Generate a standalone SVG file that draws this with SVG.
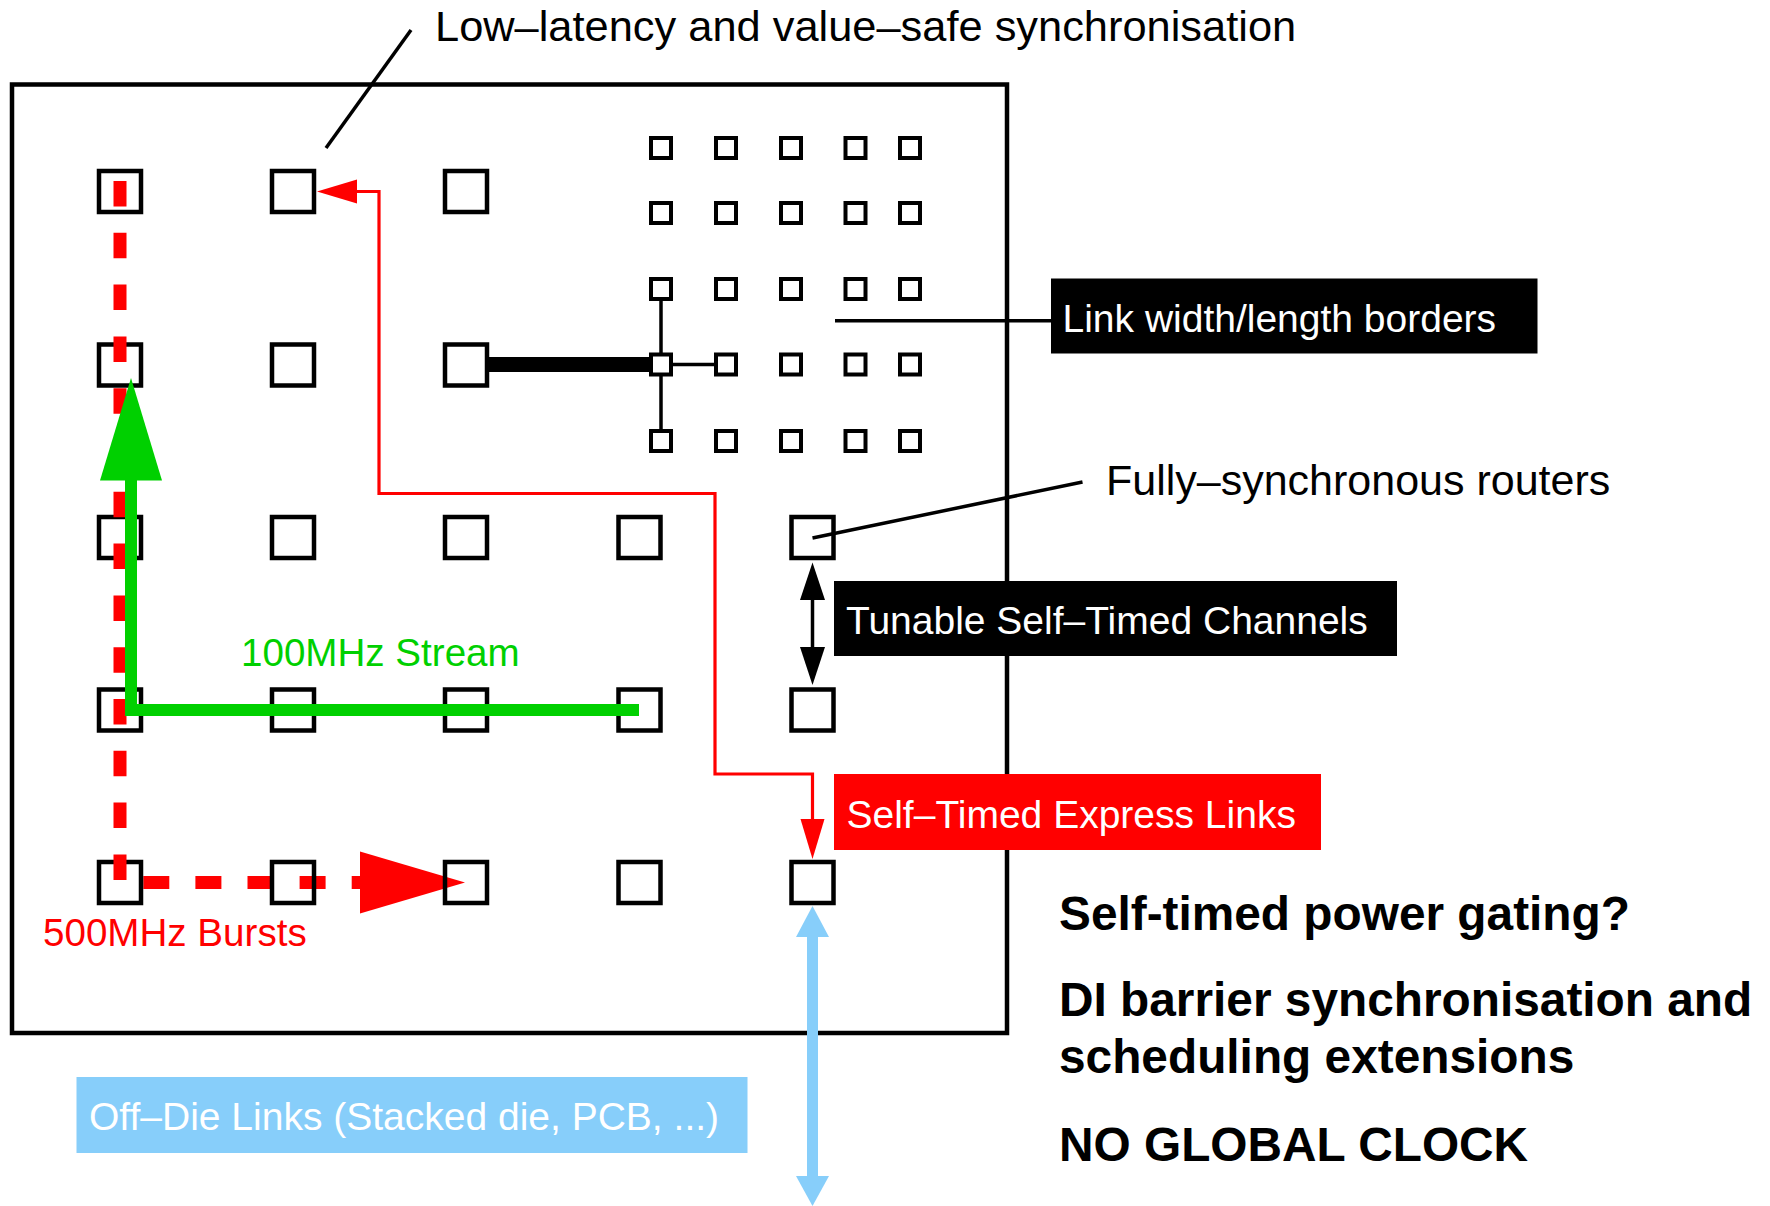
<svg xmlns="http://www.w3.org/2000/svg" width="1770" height="1206" viewBox="0 0 1770 1206">
<style>
text{font-family:"Liberation Sans",Arial,Helvetica,sans-serif}
.frame{fill:none;stroke:#000;stroke-width:4.5}
.node{fill:none;stroke:#000;stroke-width:4.5}
.snode{fill:#fff;stroke:#000;stroke-width:4}
.thin{stroke:#000;stroke-width:3.5;fill:none}
.red{stroke:#ff0000;stroke-width:3.2;fill:none}
.redf{fill:#ff0000}
.green{stroke:#00d000;stroke-width:12;fill:none;stroke-linejoin:miter}
.greenf{fill:#00d000}
.dash{stroke:#ff0000;stroke-width:13;fill:none}
.blue{stroke:#87cefa;stroke-width:11;fill:none}
.bluef{fill:#87cefa}
.lbl{font-size:39px;fill:#fff}
.note{font-size:43px;fill:#000}
.bold{font-size:47.8px;font-weight:bold;fill:#000}
</style>
<rect class="frame" x="12" y="84.5" width="995" height="948.5"/>
<g id="connectors-under">
<line class="dash" x1="143.3" y1="882.5" x2="360" y2="882.5" stroke-dasharray="26 26.1"/>
<polygon class="redf" points="465,882.5 360,851.5 360,913.5"/>
<line stroke="#000" stroke-width="15" x1="488" y1="364.5" x2="652" y2="364.5"/>
<line class="thin" stroke-width="4" x1="661" y1="289" x2="661" y2="441"/>
<line class="thin" stroke-width="4" x1="661" y1="364.5" x2="726" y2="364.5"/>
</g>
<g id="nodes">
<g id="r1c1"><rect class="node" x="99" y="171" width="42" height="41"/></g>
<g id="r1c2"><rect class="node" x="272" y="171" width="42" height="41"/></g>
<g id="r1c3"><rect class="node" x="445" y="171" width="42" height="41"/></g>
<g id="r2c1"><rect class="node" x="99" y="344.5" width="42" height="41"/></g>
<g id="r2c2"><rect class="node" x="272" y="344.5" width="42" height="41"/></g>
<g id="r2c3"><rect class="node" x="445" y="344.5" width="42" height="41"/></g>
<g id="r3c1"><rect class="node" x="99" y="517" width="42" height="41"/></g>
<g id="r3c2"><rect class="node" x="272" y="517" width="42" height="41"/></g>
<g id="r3c3"><rect class="node" x="445" y="517" width="42" height="41"/></g>
<g id="r3c4"><rect class="node" x="618.5" y="517" width="42" height="41"/></g>
<g id="r3c5"><rect class="node" x="791.5" y="517" width="42" height="41"/></g>
<g id="r4c1"><rect class="node" x="99" y="689.5" width="42" height="41"/></g>
<g id="r4c2"><rect class="node" x="272" y="689.5" width="42" height="41"/></g>
<g id="r4c3"><rect class="node" x="445" y="689.5" width="42" height="41"/></g>
<g id="r4c4"><rect class="node" x="618.5" y="689.5" width="42" height="41"/></g>
<g id="r4c5"><rect class="node" x="791.5" y="689.5" width="42" height="41"/></g>
<g id="r5c1"><rect class="node" x="99" y="862" width="42" height="41"/></g>
<g id="r5c2"><rect class="node" x="272" y="862" width="42" height="41"/></g>
<g id="r5c3"><rect class="node" x="445" y="862" width="42" height="41"/></g>
<g id="r5c4"><rect class="node" x="618.5" y="862" width="42" height="41"/></g>
<g id="r5c5"><rect class="node" x="791.5" y="862" width="42" height="41"/></g>
<g id="small-grid">
<g id="s11"><rect class="snode" x="651" y="138" width="20" height="20"/></g>
<g id="s12"><rect class="snode" x="716" y="138" width="20" height="20"/></g>
<g id="s13"><rect class="snode" x="781" y="138" width="20" height="20"/></g>
<g id="s14"><rect class="snode" x="845.5" y="138" width="20" height="20"/></g>
<g id="s15"><rect class="snode" x="900" y="138" width="20" height="20"/></g>
<g id="s21"><rect class="snode" x="651" y="203" width="20" height="20"/></g>
<g id="s22"><rect class="snode" x="716" y="203" width="20" height="20"/></g>
<g id="s23"><rect class="snode" x="781" y="203" width="20" height="20"/></g>
<g id="s24"><rect class="snode" x="845.5" y="203" width="20" height="20"/></g>
<g id="s25"><rect class="snode" x="900" y="203" width="20" height="20"/></g>
<g id="s31"><rect class="snode" x="651" y="279" width="20" height="20"/></g>
<g id="s32"><rect class="snode" x="716" y="279" width="20" height="20"/></g>
<g id="s33"><rect class="snode" x="781" y="279" width="20" height="20"/></g>
<g id="s34"><rect class="snode" x="845.5" y="279" width="20" height="20"/></g>
<g id="s35"><rect class="snode" x="900" y="279" width="20" height="20"/></g>
<g id="s41"><rect class="snode" x="651" y="354.5" width="20" height="20"/></g>
<g id="s42"><rect class="snode" x="716" y="354.5" width="20" height="20"/></g>
<g id="s43"><rect class="snode" x="781" y="354.5" width="20" height="20"/></g>
<g id="s44"><rect class="snode" x="845.5" y="354.5" width="20" height="20"/></g>
<g id="s45"><rect class="snode" x="900" y="354.5" width="20" height="20"/></g>
<g id="s51"><rect class="snode" x="651" y="431" width="20" height="20"/></g>
<g id="s52"><rect class="snode" x="716" y="431" width="20" height="20"/></g>
<g id="s53"><rect class="snode" x="781" y="431" width="20" height="20"/></g>
<g id="s54"><rect class="snode" x="845.5" y="431" width="20" height="20"/></g>
<g id="s55"><rect class="snode" x="900" y="431" width="20" height="20"/></g>
</g>
</g>
<g id="connectors">
<line class="dash" x1="120" y1="181" x2="120" y2="880" stroke-dasharray="25.5 26.3"/>
<polyline class="green" points="639,710 131,710 131,479"/>
<polygon class="greenf" points="131,378 100,480.5 162,480.5"/>
<polyline class="red" points="356,191.5 379,191.5 379,493.5 715,493.5 715,774 812.5,774 812.5,821"/>
<polygon class="redf" points="317,191.5 357,179.5 357,203.5"/>
<polygon class="redf" points="812.5,859 800.5,819 824.5,819"/>
<line class="thin" stroke-width="4" x1="812.5" y1="598" x2="812.5" y2="649"/>
<polygon fill="#000" points="812.5,562.5 800,600 825,600"/>
<polygon fill="#000" points="812.5,685 800,647 825,647"/>
<line class="blue" x1="812.5" y1="935" x2="812.5" y2="1178"/>
<polygon class="bluef" points="812.5,906 796,937 829,937"/>
<polygon class="bluef" points="812.5,1206 796,1176 829,1176"/>
<line class="thin" x1="411" y1="30" x2="326" y2="148"/>
<line class="thin" x1="835" y1="320.7" x2="1052" y2="320.7"/>
<line class="thin" x1="812.5" y1="538" x2="1082.5" y2="482"/>
</g>
<g id="label-link"><rect x="1051" y="278.5" width="486.5" height="75" fill="#000"/><text class="lbl" x="1062.5" y="332">Link width/length borders</text></g>
<g id="label-tunable"><rect x="834" y="581" width="563" height="75" fill="#000"/><text class="lbl" x="846" y="634">Tunable Self–Timed Channels</text></g>
<g id="label-express"><rect x="834" y="774" width="487" height="76" fill="#ff0000"/><text class="lbl" x="846.5" y="828">Self–Timed Express Links</text></g>
<g id="label-offdie"><rect x="76.5" y="1077" width="671" height="76" fill="#87cefa"/><text class="lbl" x="89" y="1130">Off–Die Links (Stacked die, PCB, ...)</text></g>
<g id="annotations">
<text class="note" x="435" y="41" style="font-size:43.4px">Low–latency and value–safe synchronisation</text>
<text class="note" x="1106" y="495">Fully–synchronous routers</text>
<text x="241" y="666" font-size="38.6" fill="#00d000">100MHz Stream</text>
<text x="43" y="946" font-size="38.6" fill="#ff0000">500MHz Bursts</text>
<text class="bold" x="1059" y="930">Self-timed power gating?</text>
<text class="bold" x="1059" y="1016">DI barrier synchronisation and</text>
<text class="bold" x="1059" y="1073">scheduling extensions</text>
<text class="bold" x="1059" y="1161">NO GLOBAL CLOCK</text>
</g>
</svg>
